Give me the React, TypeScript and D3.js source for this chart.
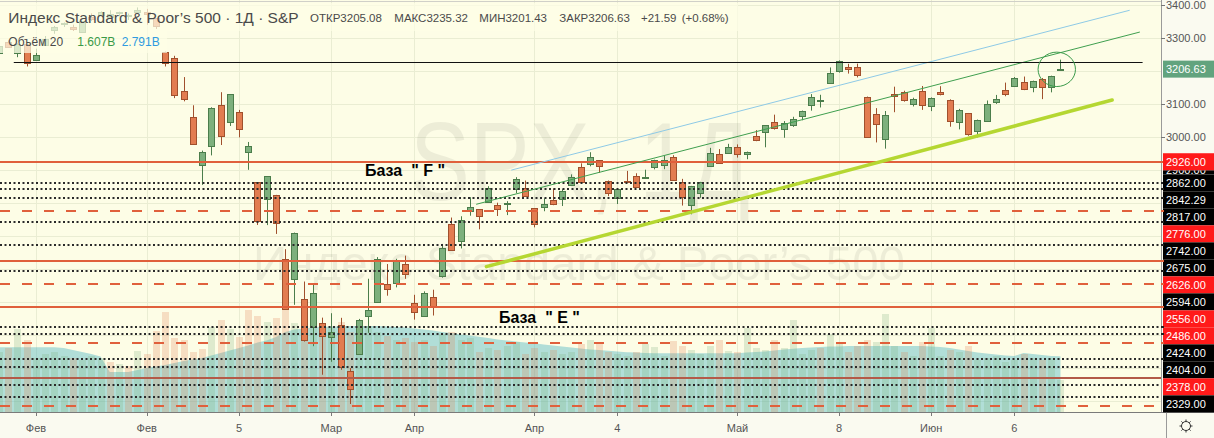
import React from 'react';
import * as d3 from 'd3';

// ---------------- DATA ----------------
// S&P 500 daily candles, first entry is bar index -3
const FIRST_INDEX = -3;
const dates = [
  '2020-01-28','2020-01-29','2020-01-30','2020-01-31','2020-02-03','2020-02-04','2020-02-05','2020-02-06','2020-02-07','2020-02-10',
  '2020-02-11','2020-02-12','2020-02-13','2020-02-14','2020-02-18','2020-02-19','2020-02-20','2020-02-21','2020-02-24','2020-02-25',
  '2020-02-26','2020-02-27','2020-02-28','2020-03-02','2020-03-03','2020-03-04','2020-03-05','2020-03-06','2020-03-09','2020-03-10',
  '2020-03-11','2020-03-12','2020-03-13','2020-03-16','2020-03-17','2020-03-18','2020-03-19','2020-03-20','2020-03-23','2020-03-24',
  '2020-03-25','2020-03-26','2020-03-27','2020-03-30','2020-03-31','2020-04-01','2020-04-02','2020-04-03','2020-04-06','2020-04-07',
  '2020-04-08','2020-04-09','2020-04-13','2020-04-14','2020-04-15','2020-04-16','2020-04-17','2020-04-20','2020-04-21','2020-04-22',
  '2020-04-23','2020-04-24','2020-04-27','2020-04-28','2020-04-29','2020-04-30','2020-05-01','2020-05-04','2020-05-05','2020-05-06',
  '2020-05-07','2020-05-08','2020-05-11','2020-05-12','2020-05-13','2020-05-14','2020-05-15','2020-05-18','2020-05-19','2020-05-20',
  '2020-05-21','2020-05-22','2020-05-26','2020-05-27','2020-05-28','2020-05-29','2020-06-01','2020-06-02','2020-06-03','2020-06-04',
  '2020-06-05','2020-06-08','2020-06-09','2020-06-10','2020-06-11','2020-06-12','2020-06-15','2020-06-16','2020-06-17','2020-06-18',
  '2020-06-19','2020-06-22','2020-06-23','2020-06-24','2020-06-25','2020-06-26','2020-06-29','2020-06-30','2020-07-01','2020-07-02',
  '2020-07-06','2020-07-07','2020-07-08','2020-07-09','2020-07-10','2020-07-13',
];
const opens = [
  3255.35,3289.46,3256.45,3282.33,3235.66,3280.61,3324.91,3344.92,3335.54,3318.28,
  3365.87,3370.50,3365.90,3378.08,3369.04,3380.39,3380.45,3360.50,3257.61,3238.94,
  3139.90,3062.54,2916.90,2974.28,3096.46,3045.75,3075.70,2954.20,2863.89,2813.48,
  2825.60,2630.86,2569.99,2508.59,2425.66,2436.50,2393.48,2431.94,2290.71,2344.44,
  2457.77,2501.29,2555.87,2558.98,2614.69,2498.08,2458.54,2514.92,2578.28,2738.65,
  2685.00,2776.99,2782.46,2805.10,2795.64,2799.34,2842.43,2845.62,2784.81,2787.89,
  2810.42,2812.64,2854.65,2909.96,2918.46,2930.91,2869.09,2815.01,2868.88,2883.14,
  2878.26,2908.83,2915.46,2939.50,2865.86,2794.54,2829.95,2913.86,2948.59,2953.63,
  2969.95,2948.05,3004.08,3015.65,3046.61,3025.17,3038.78,3064.78,3098.90,3111.56,
  3163.84,3199.92,3213.32,3213.42,3123.53,3071.04,2993.76,3131.00,3136.13,3101.64,
  3140.29,3094.42,3138.70,3114.40,3046.60,3073.20,3018.59,3050.20,3105.92,3143.64,
  3155.29,3166.44,3153.07,3176.17,3152.47,3205.08,
];
const highs = [
  3285.78,3293.47,3285.91,3282.33,3268.44,3306.92,3337.58,3347.96,3341.42,3352.26,
  3375.63,3381.47,3385.09,3380.69,3375.01,3393.52,3389.15,3360.76,3259.81,3246.99,
  3182.51,3097.07,2959.72,3090.96,3136.72,3130.97,3083.04,2985.93,2863.89,2882.59,
  2825.60,2660.95,2711.33,2562.98,2553.93,2453.57,2466.97,2453.01,2300.73,2449.71,
  2571.42,2637.01,2615.91,2631.80,2641.39,2522.75,2533.22,2538.18,2676.85,2756.89,
  2760.75,2818.57,2782.46,2851.85,2801.88,2806.51,2879.22,2868.98,2785.54,2815.10,
  2844.90,2842.71,2887.72,2921.15,2954.86,2930.91,2869.09,2844.24,2898.23,2891.11,
  2901.92,2932.16,2944.25,2945.82,2874.14,2852.80,2865.01,2968.09,2964.21,2980.29,
  2978.50,2956.76,3021.72,3036.25,3068.67,3049.17,3062.18,3081.07,3130.94,3128.91,
  3211.72,3233.13,3222.71,3223.27,3123.53,3088.42,3079.76,3153.45,3141.16,3120.00,
  3155.53,3120.92,3154.90,3115.01,3086.25,3073.73,3053.89,3111.51,3128.44,3165.81,
  3182.59,3184.15,3171.80,3179.78,3186.82,3235.32,
];
const lows = [
  3253.22,3271.89,3242.80,3214.68,3235.66,3280.61,3313.75,3334.39,3322.12,3317.77,
  3352.72,3369.72,3360.52,3366.15,3355.61,3378.83,3341.02,3328.45,3214.65,3118.77,
  3108.99,2977.39,2855.84,2945.19,2976.63,3034.38,2999.83,2901.54,2734.43,2734.00,
  2707.22,2478.86,2492.37,2380.94,2367.04,2280.52,2319.78,2295.56,2191.86,2344.44,
  2407.53,2500.72,2520.02,2545.28,2571.15,2447.49,2455.79,2459.96,2574.57,2657.67,
  2663.30,2762.36,2721.17,2805.10,2761.54,2764.32,2830.88,2820.43,2727.10,2775.95,
  2794.26,2791.76,2852.89,2860.71,2912.16,2892.47,2821.61,2797.85,2863.55,2847.65,
  2876.48,2902.88,2903.44,2869.59,2793.15,2766.64,2816.78,2913.86,2922.35,2953.63,
  2938.57,2933.59,2988.17,2969.75,3023.40,2998.61,3031.54,3051.64,3080.82,3090.41,
  3163.84,3196.00,3193.11,3181.49,2999.49,2984.47,2965.66,3076.06,3108.03,3093.51,
  3083.11,3079.39,3127.12,3032.13,3024.01,3004.63,2999.74,3047.83,3101.17,3124.52,
  3155.29,3142.93,3136.53,3115.70,3136.22,3201.43,
];
const closes = [
  3276.24,3273.40,3283.66,3225.52,3248.92,3297.59,3334.69,3345.78,3327.71,3352.09,
  3357.75,3379.45,3373.94,3380.16,3370.29,3386.15,3373.23,3337.75,3225.89,3128.21,
  3116.39,2978.76,2954.22,3090.23,3003.37,3130.12,3023.94,2972.37,2746.56,2882.23,
  2741.38,2480.64,2711.02,2386.13,2529.19,2398.10,2409.39,2304.92,2237.40,2447.33,
  2475.56,2630.07,2541.47,2626.65,2584.59,2470.50,2526.90,2488.65,2663.68,2659.41,
  2749.98,2789.82,2761.63,2846.06,2783.36,2799.55,2874.56,2823.16,2736.56,2799.31,
  2797.80,2836.74,2878.48,2863.39,2939.51,2912.43,2830.71,2842.74,2868.44,2848.42,
  2881.19,2929.80,2930.32,2870.12,2820.00,2852.50,2863.70,2953.91,2922.94,2971.61,
  2948.51,2955.45,2991.77,3036.13,3029.73,3044.31,3055.73,3080.82,3122.87,3112.35,
  3193.93,3232.39,3207.18,3190.14,3002.10,3041.31,3066.59,3124.74,3113.49,3115.34,
  3097.74,3117.86,3131.29,3050.33,3083.76,3009.05,3053.24,3100.29,3115.86,3130.01,
  3179.72,3145.32,3169.94,3152.05,3185.04,3206.63,
];
// volume, billions
const volumes = [
  3.0,3.2,4.13,3.6,2.7,2.9,3.0,2.8,2.7,2.6,
  2.8,2.7,2.5,2.4,2.3,3.05,2.88,4.07,5.02,3.68,
  3.6,3.0,3.13,4.23,4.6,4.13,3.77,5.1,4.8,4.5,
  4.68,5.1,4.43,4.1,4.6,4.3,4.2,4.5,4.0,4.4,
  4.3,4.0,3.8,3.6,3.7,3.5,3.6,3.3,3.9,4.0,
  3.6,3.7,3.0,3.2,3.1,3.3,3.5,2.9,3.2,3.0,
  3.1,2.9,3.0,3.4,3.6,3.4,3.0,2.9,2.8,3.0,
  3.4,3.25,2.8,3.55,3.3,3.1,2.9,3.3,3.6,3.05,
  3.0,4.2,3.2,3.1,3.6,3.2,4.6,2.9,3.1,3.2,
  3.9,3.4,3.0,3.3,3.6,3.5,4.9,3.3,3.0,2.8,
  3.5,4.2,2.8,3.1,3.0,3.3,2.6,2.7,2.8,2.5,
  2.6,2.9,2.7,2.6,2.7,1.607,
];
// 20-period volume average, billions (read from the area edge)
const volumeMA = [
  3.24,3.24,3.24,3.24,3.24,3.24,3.24,3.2,3.1,3.0,
  2.9,2.77,2.0,2.0,2.0,2.1,2.2,2.28,2.35,2.45,
  2.55,2.62,2.7,2.82,2.95,3.07,3.2,3.33,3.47,3.57,
  3.75,4.0,4.12,4.18,4.22,4.25,4.27,4.28,4.3,4.3,
  4.3,4.3,4.28,4.25,4.22,4.18,4.13,4.07,4.0,3.95,
  3.88,3.82,3.76,3.7,3.63,3.58,3.53,3.48,3.44,3.38,
  3.33,3.28,3.23,3.18,3.13,3.1,3.06,3.02,2.99,2.97,
  2.95,2.94,2.94,2.94,2.94,2.94,2.94,2.94,2.94,2.94,
  2.94,2.97,3.0,3.03,3.07,3.12,3.16,3.2,3.22,3.25,
  3.27,3.28,3.3,3.3,3.3,3.3,3.3,3.3,3.3,3.3,
  3.3,3.28,3.25,3.2,3.12,3.05,2.98,2.92,2.88,2.83,
  2.8,2.95,2.9,2.85,2.8,2.791,
];

const axisTickIndex = [1, 13, 23, 33, 42, 55, 64, 77, 88, 98, 107];
const axisTickLabels = ['Фев', 'Фев', '5', 'Мар', 'Апр', 'Апр', '4', 'Май', '8', 'Июн', '6'];
const priceTicks = [3400, 3300, 3200, 3100, 3000, 2900, 2800, 2700, 2600, 2500, 2400, 2300, 2200];

// horizontal levels with axis labels
const levelPrices = [2926, 2862, 2842.29, 2817, 2776, 2742, 2675, 2626, 2594, 2556, 2486, 2424, 2404, 2378, 2329];
const levelKinds = ['solid', 'dotted', 'dotted', 'dotted', 'dashed', 'dotted', 'dotted', 'solid', 'dotted', 'dashed', 'solid', 'dotted', 'dotted', 'dashed', 'dotted'];
// levels whose labels were pushed off the axis
const extraLevelPrices = [2305, 2271, 2248.5, 2214, 2186];
const extraLevelKinds = ['dotted', 'dark', 'dotted', 'dotted', 'dashed'];
const hiddenLabelPrice = 2900;

// drawings (bar index, price)
const resistanceLine = [[-1.4, 3229.5], [120.9, 3229.5]];
const blueChannel = [[52.5, 2900.6], [119.5, 3385]];
const greenChannel = [[48.7, 2797], [120.6, 3319]];
const supportLine = [[49.8, 2608], [117.6, 3113]];
const circleCenter = [111.6, 3206];

// ---------------- LAYOUT ----------------
const W = 1214;
const H = 438;
const PR = 1161; // right edge of plot
const PB = 412; // bottom edge of plot
const LABEL_H = 17;

const x = d3.scaleLinear().domain([0, 112]).range([26.7, 26.7 + 112 * 9.23]);
const y = d3.scaleLinear().domain([3416.1, 2167.6]).range([0, PB]);
const yv = d3.scaleLinear().domain([0, 20.6]).range([PB, 0]);

const UP_FILL = '#7db07d';
const UP_STROKE = '#4b7d4b';
const DN_FILL = '#e27c50';
const DN_STROKE = '#a0502d';
const LEVEL_RED = '#e0603c';
const BG = '#fdfde6';
const AXIS_BG = '#fafaf0';
const FONT = '"Liberation Sans", Arial, sans-serif';

function levelStyle(kind: string) {
  if (kind === 'solid') return { stroke: LEVEL_RED, dash: undefined as string | undefined };
  if (kind === 'dashed') return { stroke: LEVEL_RED, dash: '10 12' };
  if (kind === 'dark') return { stroke: '#b35a48', dash: undefined };
  return { stroke: '#2a2a2a', dash: '2 2.5' };
}

export default function App() {
  const n = opens.length;
  const bars = d3.range(n).map((k) => ({
    i: k + FIRST_INDEX,
    date: dates[k],
    o: opens[k], h: highs[k], l: lows[k], c: closes[k],
    v: volumes[k], ma: volumeMA[k],
  }));
  const last = bars[n - 1];
  const prevClose = bars[n - 2].c;
  const chg = last.c - prevClose;
  const pct = (chg / prevClose) * 100;

  const maArea = d3.area<any>()
    .x((d) => x(d.i))
    .y0(PB)
    .y1((d) => yv(d.ma))
    .curve(d3.curveLinear);

  // stacked axis labels
  let prev = -Infinity;
  const stacked = levelPrices.map((p, k) => {
    const cy = Math.max(y(p), prev + LABEL_H);
    prev = cy;
    return { p, kind: levelKinds[k], cy };
  });
  const stackTop = stacked[0].cy - LABEL_H / 2;
  const stackBottom = stacked[stacked.length - 1].cy + LABEL_H / 2;
  const curY = y(last.c);
  const visibleTicks = priceTicks.filter((p) => {
    const ty = y(p);
    if (ty > stackTop - 6) return false;
    if (Math.abs(ty - curY) < LABEL_H) return false;
    return true;
  });

  // gap between the first two stacked labels where the hidden label peeks out
  const gapTop = stacked[0].cy + LABEL_H / 2;
  const gapBottom = stacked[1].cy - LABEL_H / 2;

  const lineOf = (pts: number[][]) => ({
    x1: x(pts[0][0]), y1: y(pts[0][1]), x2: x(pts[1][0]), y2: y(pts[1][1]),
  });

  const ohlcItems = [
    `ОТКР${last.o.toFixed(2)}`,
    `МАКС${last.h.toFixed(2)}`,
    `МИН${last.l.toFixed(2)}`,
    `ЗАКР${last.c.toFixed(2)}`,
    `${chg >= 0 ? '+' : ''}${chg.toFixed(2)}`,
    `(${pct >= 0 ? '+' : ''}${pct.toFixed(2)}%)`,
  ];
  const ohlcX = [310, 394.3, 479.3, 559.3, 641, 681.7];

  const crisp = (v: number) => Math.round(v) + 0.5;

  return (
    <div style={{ position: 'absolute', left: 0, top: 0 }}>
      <svg width={W} height={H} style={{ display: 'block', fontFamily: FONT }}>
        <defs>
          <clipPath id="plot">
            <rect x={0} y={0} width={PR} height={PB} />
          </clipPath>
          <clipPath id="gap">
            <rect x={1163} y={gapTop} width={W - 1163} height={Math.max(0, gapBottom - gapTop)} />
          </clipPath>
        </defs>
        <rect x={0} y={0} width={W} height={H} fill={BG} />

        <g clipPath="url(#plot)">
          {/* grid */}
          {priceTicks.map((p) => (
            <line key={'hg' + p} x1={0} x2={PR} y1={crisp(y(p))} y2={crisp(y(p))} stroke="#eaedd3" strokeWidth={1} />
          ))}
          {axisTickIndex.map((i, k) => (
            <line key={'vg' + k} x1={crisp(x(i))} x2={crisp(x(i))} y1={0} y2={PB} stroke="#eaedd3" strokeWidth={1} />
          ))}

          {/* watermark */}
          <text x={580} y={200} fontSize={112} textAnchor="middle" textLength={340} lengthAdjust="spacingAndGlyphs" fill="#000" opacity={0.06}>SPX, 1Д</text>
          <text x={579} y={280} fontSize={49} textAnchor="middle" textLength={652} lengthAdjust="spacingAndGlyphs" fill="#000" opacity={0.06}>Индекс Standard &amp; Poor’s 500</text>

          {/* volume MA area */}
          <path d={maArea(bars) || ''} fill="#3fb0c0" opacity={0.4} />
          {/* volume bars */}
          {bars.map((b, k) => {
            const up = k === 0 ? b.c >= b.o : b.c >= bars[k - 1].c;
            const cx = Math.round(x(b.i));
            const top = Math.round(yv(b.v));
            return (
              <rect key={'v' + k} x={cx - 3} y={top} width={7} height={PB - top} fill={up ? UP_FILL : DN_FILL} opacity={0.24} />
            );
          })}

          {/* candles */}
          {bars.map((b, k) => {
            const up = b.c >= b.o;
            const cx = Math.round(x(b.i));
            const yTop = Math.round(y(Math.max(b.o, b.c)));
            const yBot = Math.round(y(Math.min(b.o, b.c)));
            const hgt = Math.max(1, yBot - yTop);
            return (
              <g key={'c' + k}>
                <line x1={cx + 0.5} x2={cx + 0.5} y1={y(b.h)} y2={y(b.l)} stroke={up ? UP_STROKE : DN_STROKE} strokeWidth={1} />
                <rect x={cx - 2.5} y={yTop + 0.5} width={6} height={hgt} fill={up ? UP_FILL : DN_FILL} stroke={up ? UP_STROKE : DN_STROKE} strokeWidth={1} />
              </g>
            );
          })}

          {/* horizontal levels */}
          {[...levelPrices.map((p, k) => ({ p, kind: levelKinds[k] })), ...extraLevelPrices.map((p, k) => ({ p, kind: extraLevelKinds[k] }))].map((lv, k) => {
            const st = levelStyle(lv.kind);
            const yy = Math.round(y(lv.p));
            return (
              <line key={'lv' + k} x1={0} x2={PR} y1={yy} y2={yy} stroke={st.stroke} strokeWidth={2} strokeDasharray={st.dash} />
            );
          })}

          {/* trend lines */}
          <line {...lineOf(blueChannel)} stroke="#8ecae6" strokeWidth={1} />
          <line {...lineOf(greenChannel)} stroke="#3f9f4f" strokeWidth={1} />
          <line {...lineOf(supportLine)} stroke="#b5d732" strokeWidth={3.5} strokeLinecap="round" />
          {(() => {
            const l = lineOf(resistanceLine);
            const yy = crisp(l.y1);
            return <line x1={l.x1} x2={l.x2} y1={yy} y2={yy} stroke="#111" strokeWidth={1} />;
          })()}
          <ellipse cx={x(circleCenter[0])} cy={y(circleCenter[1])} rx={18.7} ry={17.2} fill="none" stroke="#3a9a4a" strokeWidth={1} />

          {/* annotations */}
          <text x={365} y={176} fontSize={16} fontWeight="bold" fill="#000" style={{ whiteSpace: 'pre' }}>{'База  " F "'}</text>
          <text x={499} y={323} fontSize={16} fontWeight="bold" fill="#000" style={{ whiteSpace: 'pre' }}>{'База  " E "'}</text>

          {/* legend */}
          <rect x={0} y={3} width={738} height={28} fill={BG} opacity={0.72} />
          <rect x={0} y={31} width={167} height={22} fill={BG} opacity={0.72} />
          <text x={8.3} y={23.3} fontSize={15.5} fill="#4a4a4a">Индекс Standard &amp; Poor’s 500 · 1Д · S&amp;P</text>
          {ohlcItems.map((t, k) => (
            <text key={'ohlc' + k} x={ohlcX[k]} y={22.3} fontSize={11.5} fill="#4a4a4a">{t}</text>
          ))}
          <text x={8.3} y={45.7} fontSize={12} fill="#4a4a4a">Объём 20</text>
          <text x={77.3} y={45.7} fontSize={12} fill="#3a9a48">{last.v.toFixed(3)}B</text>
          <text x={121.7} y={45.7} fontSize={12} fill="#2f9be0">{last.ma.toFixed(3)}B</text>
        </g>

        {/* top border */}
        <line x1={0} x2={W} y1={1.5} y2={1.5} stroke="#d0d0c8" strokeWidth={1} />

        {/* bottom axis */}
        <rect x={0} y={PB} width={W} height={H - PB} fill={AXIS_BG} />
        <line x1={0} x2={W} y1={PB + 0.5} y2={PB + 0.5} stroke="#7a7a7a" strokeWidth={1} />
        {axisTickIndex.map((i, k) => (
          <g key={'xt' + k}>
            <line x1={crisp(x(i))} x2={crisp(x(i))} y1={PB + 1} y2={PB + 4} stroke="#7a7a7a" />
            <text x={x(i)} y={432} fontSize={11} fill="#555" textAnchor="middle">{axisTickLabels[k]}</text>
          </g>
        ))}

        {/* right axis */}
        <rect x={PR} y={0} width={W - PR} height={PB} fill={AXIS_BG} />
        <line x1={PR + 0.5} x2={PR + 0.5} y1={0} y2={PB} stroke="#9a9a9a" strokeWidth={1} />
        <line x1={1166.5} x2={1166.5} y1={PB} y2={H} stroke="#9a9a9a" strokeWidth={1} />
        {visibleTicks.map((p) => (
          <g key={'yt' + p}>
            <line x1={PR} x2={PR + 4} y1={crisp(y(p))} y2={crisp(y(p))} stroke="#777" />
            <text x={1166} y={y(p) + 4} fontSize={11} fill="#555">{p.toFixed(2)}</text>
          </g>
        ))}
        {/* label hidden under the stack, only a strip shows */}
        <g clipPath="url(#gap)">
          <rect x={1163} y={y(hiddenLabelPrice) - LABEL_H / 2} width={W - 1163} height={LABEL_H} fill="#000" />
          <text x={1166} y={y(hiddenLabelPrice) + 4} fontSize={11} fill="#fff">{hiddenLabelPrice.toFixed(2)}</text>
        </g>
        {stacked.map((s, k) => {
          const red = s.kind !== 'dotted';
          return (
            <g key={'sl' + k}>
              <line x1={PR} x2={PR + 3} y1={Math.round(y(s.p))} y2={Math.round(y(s.p))} stroke={red ? LEVEL_RED : '#222'} strokeWidth={2} />
              <rect x={1163} y={s.cy - LABEL_H / 2} width={W - 1163} height={LABEL_H} fill={red ? '#ff1a1a' : '#000'} />
              <text x={1166} y={s.cy + 4} fontSize={11} fill="#fff">{s.p.toFixed(2)}</text>
            </g>
          );
        })}
        {/* current price */}
        <rect x={1163} y={curY - LABEL_H / 2} width={W - 1163} height={LABEL_H} fill="#62a37e" />
        <text x={1166} y={curY + 4} fontSize={11} fill="#fff">{last.c.toFixed(2)}</text>

        {/* settings gear */}
        <g transform="translate(1186,426)" stroke="#333" fill="none" strokeWidth={1}>
          <circle r={4.5} />
          {d3.range(8).map((k) => {
            const a = (k * Math.PI) / 4;
            return <line key={'g' + k} x1={Math.cos(a) * 4.5} y1={Math.sin(a) * 4.5} x2={Math.cos(a) * 6.5} y2={Math.sin(a) * 6.5} />;
          })}
        </g>
      </svg>
    </div>
  );
}
